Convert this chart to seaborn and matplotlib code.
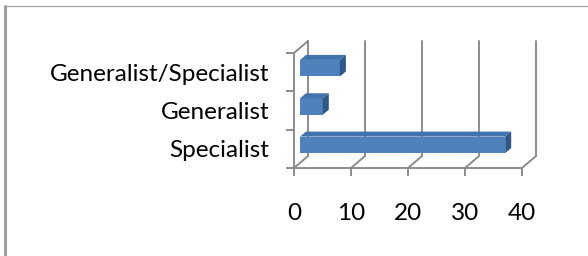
import matplotlib
matplotlib.use("Agg")
import matplotlib.pyplot as plt
from matplotlib.patches import Polygon
from matplotlib.lines import Line2D
import seaborn as sns
import pandas as pd

# data
categories = ["Generalist/Specialist", "Generalist", "Specialist"]
counts = [7, 4, 36]
x_ticks = [0, 10, 20, 30, 40]

df = pd.DataFrame({"Type": categories, "Count": counts})

sns.set_style("white")
plt.rcParams["font.family"] = ["Lato", "DejaVu Sans"]

W, H = 588, 256
fig = plt.figure(figsize=(W / 100, H / 100), dpi=100)

# front plane of the fake 3d box, in pixels
x0_px, x1_px = 294, 522
ytop_px, ybot_px = 53, 168
ax = fig.add_axes([x0_px / W, 1 - ybot_px / H, (x1_px - x0_px) / W, (ybot_px - ytop_px) / H])

grid_c = "#8c8c8c"
front_c = "#4f81bd"
top_c = "#4373ad"
side_c = "#2f5788"

sns.barplot(data=df, x="Count", y="Type", order=categories, color=front_c,
            width=0.43, saturation=1, ax=ax, zorder=3)

ax.set_xlim(0, 40)
ax.set_ylim(2.5, -0.5)

# pixel -> data units
ux = 40 / (x1_px - x0_px)
uy = 3 / (ybot_px - ytop_px)
depth_x, depth_y = 14 * ux, -12 * uy        # back wall offset
bar_dx, bar_dy = 6 * ux, -4 * uy           # where bars sit in depth
face_dx, face_dy = 6 * ux, -5 * uy         # bar thickness

# back wall gridlines and floor diagonals
for v in x_ticks:
    ax.plot([v + depth_x, v + depth_x], [2.5 + depth_y, -0.5 + depth_y],
            color=grid_c, lw=1.4, clip_on=False, zorder=1)
    ax.plot([v, v + depth_x], [2.5, 2.5 + depth_y],
            color=grid_c, lw=1.4, clip_on=False, zorder=1)
# left wall top edge
ax.plot([0, depth_x], [-0.5, -0.5 + depth_y], color=grid_c, lw=1.4, clip_on=False, zorder=1)

# 3d faces for the bars
for p in ax.patches:
    p.set_linewidth(0)
    bx, by = p.get_x() + bar_dx, p.get_y() + bar_dy
    bw, bh = p.get_width(), p.get_height()
    p.set_x(bx)
    p.set_y(by)
    # top face (y axis inverted, so top is by)
    ax.add_patch(Polygon([(bx, by), (bx + bw, by), (bx + bw + face_dx, by + face_dy),
                          (bx + face_dx, by + face_dy)], closed=True, fc=top_c, lw=0,
                         zorder=3, clip_on=False))
    # side face
    ax.add_patch(Polygon([(bx + bw, by), (bx + bw + face_dx, by + face_dy),
                          (bx + bw + face_dx, by + bh + face_dy), (bx + bw, by + bh)],
                         closed=True, fc=side_c, lw=0, zorder=3, clip_on=False))

for s in ["top", "right"]:
    ax.spines[s].set_visible(False)
for s in ["left", "bottom"]:
    ax.spines[s].set_color(grid_c)
    ax.spines[s].set_linewidth(1.4)
    ax.spines[s].set_zorder(2)

ax.set_xticks(x_ticks)
ax.set_xticklabels([str(t) for t in x_ticks])
ax.set_yticks([0, 1, 2])
ax.set_yticklabels(categories)
ax.set_yticks([-0.5, 0.5, 1.5, 2.5], minor=True)
ax.tick_params(axis="y", which="major", length=0, pad=18, labelsize=17.5, labelcolor="black")
ax.tick_params(axis="y", which="minor", length=6, width=1.4, color=grid_c, left=True)
ax.tick_params(axis="x", length=6, width=1.4, color=grid_c, pad=19, labelsize=17.5,
               labelcolor="black", bottom=True)
ax.set_xlabel("")
ax.set_ylabel("")
ax.patch.set_alpha(0)

# chart frame
fig.add_artist(Line2D([5 / W, 5 / W], [0, 1 - 6 / H], transform=fig.transFigure,
                      color="#a0a0a0", lw=2.2))
fig.add_artist(Line2D([5 / W, 1], [1 - 6 / H, 1 - 6 / H], transform=fig.transFigure,
                      color="#a0a0a0", lw=0.9))

fig.savefig("out.png", dpi=100)
